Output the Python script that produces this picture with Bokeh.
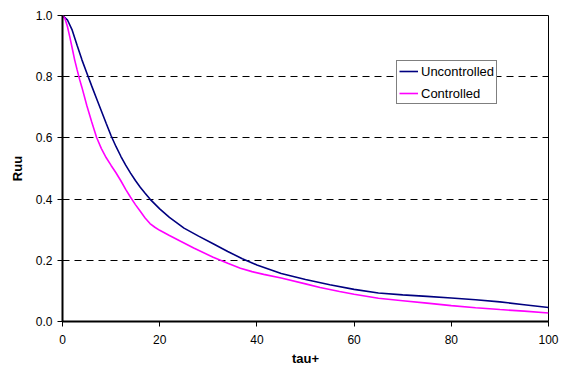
from bokeh.plotting import figure
from bokeh.models import Range1d, FixedTicker, PrintfTickFormatter, Legend, LegendItem, Title
from bokeh.embed import file_html
from bokeh.resources import INLINE

tau_unc = [0, 1, 2, 3, 4, 5, 6, 7, 8, 9, 10, 11, 12, 13, 14, 15, 16, 17, 18,
           20, 22, 25, 28, 31, 34, 37, 40, 45, 50, 55, 60, 65, 70, 75, 80, 85, 90, 95, 100]
ruu_unc = [1.0, 0.986, 0.952, 0.903, 0.855, 0.812, 0.770, 0.729, 0.688, 0.647, 0.607, 0.572, 0.540, 0.511, 0.485, 0.461, 0.439, 0.419, 0.400,
           0.368, 0.340, 0.305, 0.279, 0.254, 0.229, 0.205, 0.185, 0.157, 0.137, 0.120, 0.105, 0.093, 0.087, 0.082, 0.077, 0.071, 0.064, 0.055, 0.046]

tau_ctl = [0, 0.5, 1, 1.5, 2, 2.5, 3, 3.5, 4, 5, 6, 7, 8, 9, 10, 11, 12, 13, 14, 15, 16, 17, 18, 19, 20,
           22, 24.3, 27, 31, 34, 36.6, 39, 41.4, 45, 50, 53, 57, 60, 65, 70, 75, 80, 85, 90, 95, 100]
ruu_ctl = [1.0, 0.99, 0.965, 0.93, 0.893, 0.855, 0.823, 0.792, 0.765, 0.706, 0.653, 0.602, 0.565, 0.535, 0.510, 0.486, 0.460, 0.432, 0.406, 0.382, 0.360, 0.338, 0.320, 0.308, 0.298,
           0.281, 0.262, 0.240, 0.210, 0.190, 0.174, 0.163, 0.154, 0.142, 0.123, 0.111, 0.098, 0.089, 0.076, 0.068, 0.060, 0.052, 0.045, 0.039, 0.034, 0.028]

x_ticks = [0, 20, 40, 60, 80, 100]
y_ticks = [0.0, 0.2, 0.4, 0.6, 0.8, 1.0]
series_names = ["Uncontrolled", "Controlled"]
x_title = "tau+"
y_title = "Ruu"

FONT = "Liberation Sans"

p = figure(width=563, height=367, output_backend="svg", toolbar_location=None,
           x_range=Range1d(0, 100), y_range=Range1d(0, 1),
           min_border_left=62, min_border_right=15, min_border_top=15, min_border_bottom=0)
p.background_fill_color = "white"
p.border_fill_color = "white"
p.outline_line_color = "black"
p.outline_line_width = 1

r1 = p.line(tau_unc, ruu_unc, line_color="#000080", line_width=1.6)
r2 = p.line(tau_ctl, ruu_ctl, line_color="#FF00FF", line_width=1.6)

p.xgrid.visible = False
p.ygrid.ticker = FixedTicker(ticks=y_ticks)
p.ygrid.grid_line_color = "black"
p.ygrid.grid_line_width = 1
p.ygrid.grid_line_dash = "7 5"

for ax in (p.xaxis[0], p.yaxis[0]):
    ax.axis_line_color = "black"
    ax.axis_line_width = 2
    ax.major_tick_line_color = "black"
    ax.major_tick_out = 5
    ax.major_tick_in = 0
    ax.minor_tick_line_color = None
    ax.major_label_text_font = FONT
    ax.major_label_text_font_size = "12px"
    ax.major_label_text_color = "black"
    ax.axis_label_text_font = FONT
    ax.axis_label_text_font_size = "13px"
    ax.axis_label_text_font_style = "bold"
    ax.axis_label_text_color = "black"

p.xaxis.ticker = FixedTicker(ticks=x_ticks)
p.yaxis.ticker = FixedTicker(ticks=y_ticks)
p.yaxis.formatter = PrintfTickFormatter(format="%.1f")
p.yaxis.axis_label = y_title
p.xaxis.major_label_standoff = 8
p.yaxis.major_label_standoff = 5
p.yaxis.axis_label_standoff = 8

xt = Title(text=x_title, align="center", text_font=FONT, text_font_size="13px",
           text_font_style="bold", text_color="black", standoff=4)
p.add_layout(xt, "below")

legend = Legend(items=[LegendItem(label=series_names[0], renderers=[r1]),
                       LegendItem(label=series_names[1], renderers=[r2])],
                location=(334, 217))
legend.border_line_color = "black"
legend.border_line_width = 1
legend.background_fill_color = "white"
legend.background_fill_alpha = 1
legend.padding = 2
legend.margin = 0
legend.spacing = 6
legend.label_height = 16
legend.glyph_height = 16
legend.glyph_width = 19
legend.label_standoff = 3
legend.label_text_font = FONT
legend.label_text_font_size = "13px"
legend.label_text_color = "black"
p.add_layout(legend, "center")

open("out.html", "w").write(file_html(p, INLINE))
